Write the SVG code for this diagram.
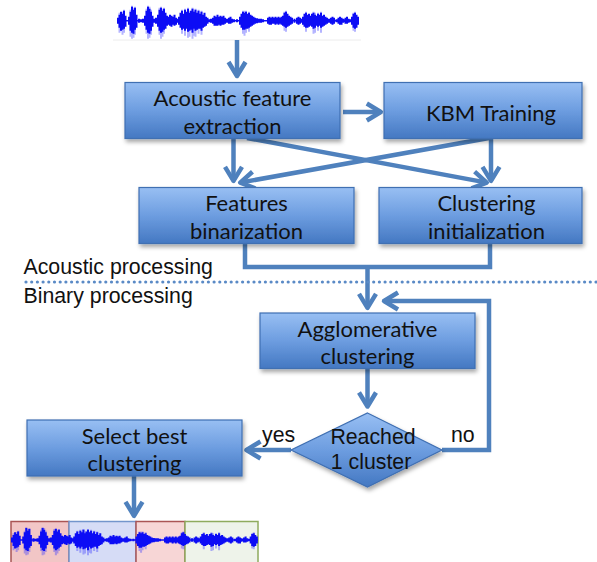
<svg xmlns="http://www.w3.org/2000/svg" xmlns:xlink="http://www.w3.org/1999/xlink" width="597" height="562" viewBox="0 0 597 562">
  <style>
    .box { fill: url(#boxGrad); stroke: #3f6fb2; stroke-width: 1.2; filter: url(#shadow); }
    .lbl { font-family: Lato, "Liberation Sans", sans-serif; font-size: 22px; fill: #111; text-anchor: middle; }
    .arial { font-family: "Liberation Sans", Arial, sans-serif; font-size: 21.3px; fill: #111; }
    .mid { text-anchor: middle; }
    .conn { fill: none; stroke: #4f81bd; stroke-width: 4.5; }
    .arrow { marker-end: url(#head); }
    .core { fill: none; stroke: #0c0cf5; stroke-width: 2; }
    .halo { fill: none; stroke: #3a3aff; stroke-width: 2; opacity: 0.38; }
  </style>
  <defs>
    <linearGradient id="boxGrad" x1="0" y1="0" x2="0" y2="1">
      <stop offset="0" stop-color="#98bff3"/>
      <stop offset="0.5" stop-color="#6d9de0"/>
      <stop offset="1" stop-color="#4478c2"/>
    </linearGradient>
    <filter id="shadow" x="-10%" y="-10%" width="130%" height="150%">
      <feDropShadow dx="1.5" dy="3" stdDeviation="2" flood-color="#000" flood-opacity="0.35"/>
    </filter>
    <marker id="head" markerUnits="userSpaceOnUse" markerWidth="40" markerHeight="40" viewBox="-20 -20 40 40" refX="0" refY="0" orient="auto" overflow="visible">
      <path d="M-14,-8.5 L0,0 L-14,8.5" fill="none" stroke="#4f81bd" stroke-width="4.5" stroke-linejoin="round"/>
    </marker>
    <!-- speech waveform, local x 0..242, centre line at y 0 -->
    <g id="wave">
      <path class="halo" d="M2.5 -8v20M5.5 -9v23M7 -11v23M13.5 -11v27M15 -15v33M16.5 -13v30M18 -14v28M29.5 -12v25M31 -15v33M32.5 -14v31M34 -11v25M42.5 -13v27M44 -14v32M45.5 -12v28M47 -13v26M65 -11v24M68 -12v27M71 -13v30M72.5 -10v26M75.5 -13v31M77 -10v25M78.5 -12v28M81.5 -11v24M84.5 -10v24M126 -10v23M127.5 -10v25M129 -10v22M132 -9v20M167.5 -9v19M169 -10v21M189 -9v20M196.5 -9v22M198 -8v20M201 -8v18M204 -9v21M236.5 -8v18M238 -9v20"/>
      <path d="M0 0H242" fill="none" stroke="#0c0cf5" stroke-width="1.5"/>
      <path class="core" d="M1 -3v6M2.5 -6v13M4 -9v19M5.5 -7v16M7 -10v18M8.5 -5v11
        M12 -4v8M13.5 -9v19M15 -14v26M16.5 -11v24M18 -13v22M19.5 -6v13M22 -2v4M24 -1.5v3M26 -2v4
        M28 -5v10M29.5 -10v19M31 -14v26M32.5 -12v25M34 -9v19M35.5 -5v11M37.5 -2v4M39 -3v6
        M41 -6v12M42.5 -11v21M44 -13v25M45.5 -10v21M47 -12v21M48.5 -8v16M50 -5v10
        M51.5 -4v8M53 -6v11M54.5 -5v11M56 -4v8M57.5 -6v11M59 -3v7M60.5 -2v4
        M62 -4v8M63.5 -8v15M65 -10v19M66.5 -7v15M68 -11v21M69.5 -9v17M71 -12v23M72.5 -8v18M74 -10v19M75.5 -12v24M77 -9v17M78.5 -11v21M80 -8v17M81.5 -10v18M83 -7v15M84.5 -9v19M86 -6v13M87.5 -8v14M89 -4v9M90.5 -3v6M92 -1.5v3M94 -2v4
        M96 -3v6M97.5 -5v10M99 -4v9M100.5 -6v11M102 -4v8M103.5 -5v10M105 -4v8M106.5 -5v9M108 -3v6
        M110 -2v4M112 -3v6M113.5 -4v7M115 -2v4M117 -1.5v3M120 -1.5v3
        M123 -4v8M124.5 -7v14M126 -9v18M127.5 -8v17M129 -9v17M130.5 -7v15M132 -8v15M133.5 -6v12M135 -5v10M136.5 -4v8
        M138 -3v6M140 -2.5v5M142 -2v4M144 -2v4M146 -1.5v3
        M151 -3v6M152.5 -4v8M154 -3v7M155.5 -4v7M157 -3v6M158.5 -4v8M160 -3v6M161.5 -4v8M163 -3v6M164.5 -4v8
        M166 -5v10M167.5 -8v14M169 -9v16M170.5 -7v13M172 -5v10M173.5 -4v8M175 -3v6M177.5 -2v4
        M180 -3v6M181.5 -4v8M183 -3v6M184.5 -2v4
        M186 -4v8M187.5 -7v13M189 -8v15M190.5 -6v13M192 -7v13M193.5 -5v10M195 -7v13M196.5 -8v16M198 -6v13M199.5 -5v10M201 -7v13M202.5 -6v11M204 -8v15M205.5 -5v11M207 -6v11M208.5 -4v8M210 -3v6M212 -2v4
        M214 -3v6M215.5 -4v8M217 -3v6M219.5 -1.5v3
        M221.5 -3v6M223 -4v8M224.5 -3v7M226 -2v4M227.5 -1.5v3
        M228.5 -3v6M230 -4v7M231.5 -2v4M233 -1.5v3
        M235 -4v8M236.5 -7v14M238 -8v16M239.5 -6v13M241 -4v8"/>
    </g>
  </defs>

  <!-- input signal -->
  <g id="input-signal">
    <line x1="113" y1="40" x2="361" y2="40" stroke="#ececec" stroke-width="1"/>
    <use xlink:href="#wave" href="#wave" transform="translate(117,20.7)"/>
  </g>

  <!-- connectors -->
  <g id="connectors">
    <path class="conn arrow" d="M237,40 V76"/>
    <path class="conn arrow" d="M343,112 H380.8"/>
    <path class="conn arrow" d="M233.5,138 V180.8"/>
    <path class="conn arrow" d="M491,138 V180.8"/>
    <path class="conn arrow" d="M247,138 L486.8,182.6"/>
    <path class="conn arrow" d="M489,138 L240.2,182.6"/>
    <path class="conn" d="M245,243.5 V267 H490 V243.5"/>
    <path class="conn arrow" d="M367.5,267 V307.8"/>
    <path class="conn arrow" d="M442,450 H489 V301 H384"/>
    <path class="conn arrow" d="M367.5,368 V406.5"/>
    <path class="conn arrow" d="M291,450 H246.5"/>
    <path class="conn arrow" d="M134,476 V515.8"/>
  </g>

  <!-- stage divider -->
  <g id="divider">
    <line x1="26" y1="282" x2="597" y2="282" stroke="#5a8ac6" stroke-width="3.2" stroke-linecap="round" stroke-dasharray="0 5.7"/>
    <text class="arial" x="23.5" y="273.5">Acoustic processing</text>
    <text class="arial" x="23.5" y="302.5">Binary processing</text>
  </g>

  <g id="feature-extraction">
    <rect class="box" x="125" y="82.5" width="215" height="56"/>
    <text class="lbl" x="232.5" y="106">Acoustic feature</text>
    <text class="lbl" x="232.5" y="133.5">extraction</text>
  </g>

  <g id="kbm-training">
    <rect class="box" x="384" y="82.5" width="198" height="56"/>
    <text class="lbl" x="491" y="120.5">KBM Training</text>
  </g>

  <g id="features-binarization">
    <rect class="box" x="139" y="187.5" width="215" height="56"/>
    <text class="lbl" x="246.5" y="210.5">Features</text>
    <text class="lbl" x="246.5" y="238.5">binarization</text>
  </g>

  <g id="clustering-initialization">
    <rect class="box" x="379" y="187.5" width="203" height="56"/>
    <text class="lbl" x="486.5" y="210.5">Clustering</text>
    <text class="lbl" x="486.5" y="238.5">initialization</text>
  </g>

  <g id="agglomerative-clustering">
    <rect class="box" x="260" y="313" width="215" height="55.5"/>
    <text class="lbl" x="367.5" y="337">Agglomerative</text>
    <text class="lbl" x="367.5" y="363.5">clustering</text>
  </g>

  <g id="stop-test">
    <polygon class="box" points="367.5,413 442,450 367.5,487 291,450"/>
    <text class="arial mid" x="373" y="443.5">Reached</text>
    <text class="arial mid" x="371" y="468.5">1 cluster</text>
    <text class="arial" x="262" y="441.5">yes</text>
    <text class="arial" x="451" y="442">no</text>
  </g>

  <g id="select-best">
    <rect class="box" x="27" y="420" width="215" height="56"/>
    <text class="lbl" x="134.5" y="443.5">Select best</text>
    <text class="lbl" x="134.5" y="471">clustering</text>
  </g>

  <!-- segmented output signal -->
  <g id="output-segments">
    <rect x="11" y="521.5" width="58" height="44" fill="#f2c6c6" stroke="#aa5555" stroke-width="1.5"/>
    <rect x="69" y="521.5" width="67" height="44" fill="#d6dcf6" stroke="#7395cc" stroke-width="1.5"/>
    <rect x="136" y="521.5" width="49" height="44" fill="#f7d6d6" stroke="#aa5555" stroke-width="1.5"/>
    <rect x="185" y="521.5" width="73" height="44" fill="#eef3ea" stroke="#8fab5e" stroke-width="1.5"/>
    <use xlink:href="#wave" href="#wave" transform="translate(11,540) scale(1.02,0.85)"/>
  </g>
</svg>
